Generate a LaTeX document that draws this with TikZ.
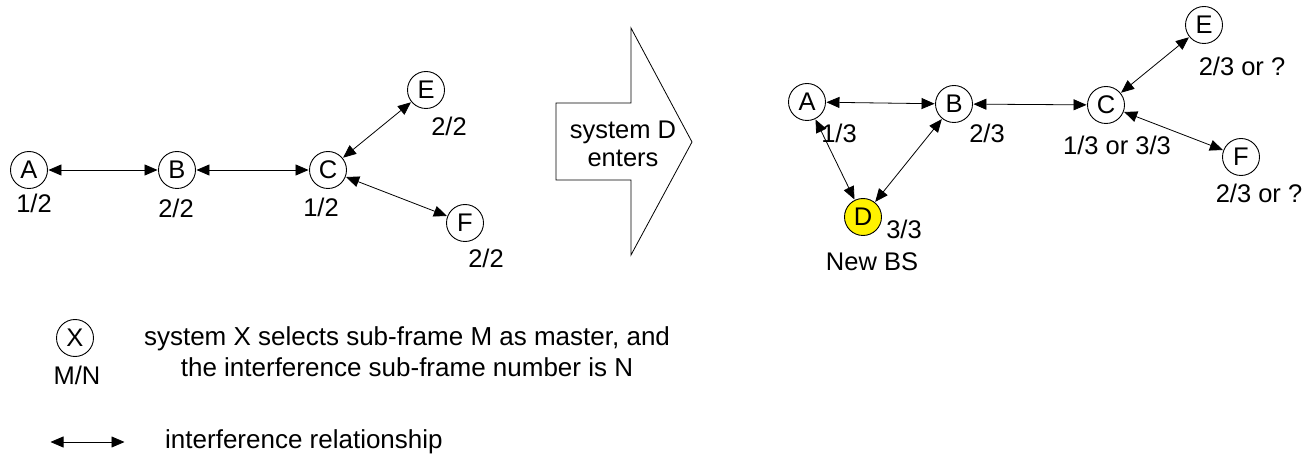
\documentclass[tikz,border=0pt]{standalone}
\usepackage{fontspec}
\setmainfont{Liberation Sans}
\usetikzlibrary{arrows.meta}
\begin{document}
\begin{tikzpicture}[x=1pt,y=-1pt,
  every node/.style={font=\fontsize{25.5}{28}\selectfont, inner sep=0pt},
  bs/.style={circle, draw, line width=0.9pt, minimum size=37pt, fill=white},
  lbl/.style={anchor=center},
  legtext/.style={font=\fontsize{26}{31}\selectfont},
  link/.style={line width=0.8pt, {Triangle[length=13pt,width=11pt]}-{Triangle[length=13pt,width=11pt]}, shorten <=0.5pt, shorten >=0.5pt}]
\useasboundingbox (0,0) rectangle (1309,454);
% left graph
\node[bs] (A1) at (29,170) {A};
\node[bs] (B1) at (177,170) {B};
\node[bs] (C1) at (328,170) {C};
\node[bs] (E1) at (426,90) {E};
\node[bs] (F1) at (465,223) {F};
\node[lbl] (lA1) at (34,203) {1/2};
\node[lbl] (lB1) at (176,208) {2/2};
\node[lbl] (lC1) at (321,207) {1/2};
\node[lbl] (lE1) at (449,126) {2/2};
\node[lbl] (lF1) at (486,258) {2/2};
\draw[link] (A1) -- (B1);
\draw[link] (B1) -- (C1);
\draw[link] (C1) -- (E1);
\draw[link] (C1) -- (F1);
% block arrow
\draw[line width=0.8pt] (556,103) -- (631,103) -- (631,28) -- (692,142) -- (631,255) -- (631,180) -- (556,180) -- cycle;
\node[align=center] (enter) at (623,144) {system D\\enters};
% right graph
\node[bs] (A2) at (807,102) {A};
\node[bs] (B2) at (954,104) {B};
\node[bs] (C2) at (1106,105) {C};
\node[bs] (E2) at (1204,25) {E};
\node[bs] (F2) at (1241,157) {F};
\node[bs, fill=yellow] (D2) at (863,217) {D};
\node[lbl] (lA2) at (839,133) {1/3};
\node[lbl] (lB2) at (987,133) {2/3};
\node[lbl] (lC2) at (1117,145) {1/3 or 3/3};
\node[lbl] (lE2) at (1242,66) {2/3 or ?};
\node[lbl] (lF2) at (1259,193) {2/3 or ?};
\node[lbl] (lD2) at (904,229) {3/3};
\node[lbl] (nbs) at (872,262) {New BS};
\draw[link] (A2) -- (B2);
\draw[link] (B2) -- (C2);
\draw[link] (C2) -- (E2);
\draw[link] (C2) -- (F2);
\draw[link] (A2) -- (D2);
\draw[link] (B2) -- (D2);
% legend
\node[bs] (X) at (75,338) {X};
\node[lbl] (MN) at (77,375) {M/N};
\node[legtext, align=center] (leg1) at (407,352) {system X selects sub-frame M as master, and\\the interference sub-frame number is N};
\coordinate (la) at (50,442);
\coordinate (lb) at (125,442);
\draw[link] (la) -- (lb);
\node[legtext, anchor=west] (leg2) at (165,442) {interference relationship};
\end{tikzpicture}
\end{document}
